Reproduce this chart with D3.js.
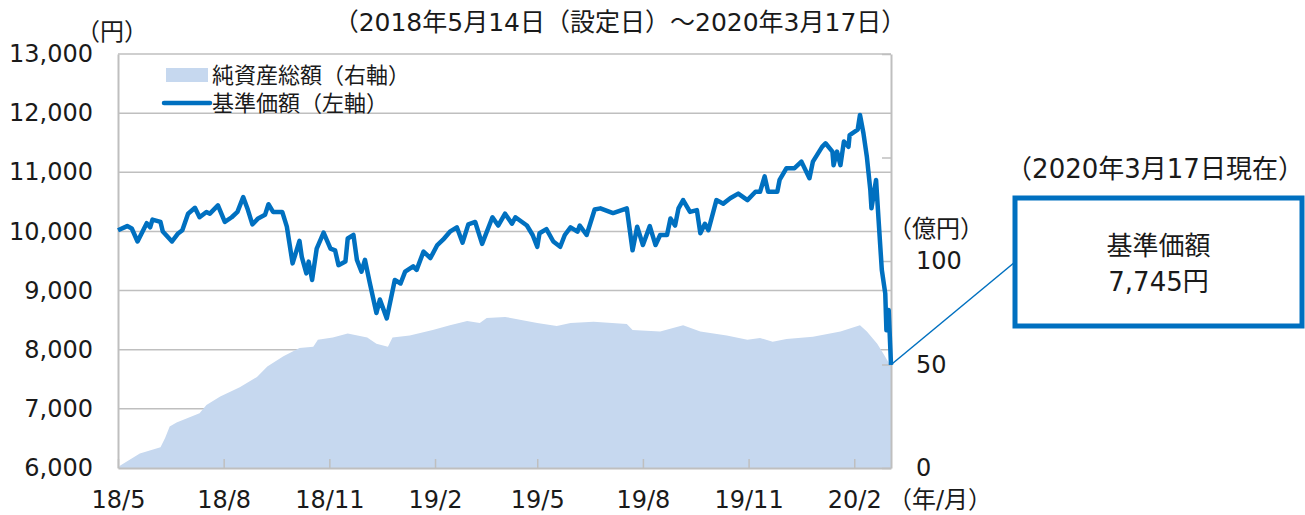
<!DOCTYPE html>
<html>
<head>
<meta charset="utf-8">
<script src="https://cdn.jsdelivr.net/npm/d3@7"></script>
<style>
  body { margin: 0; background: #fff; }
  svg text { font-family: "DejaVu Sans", "Noto Sans CJK JP", sans-serif; fill: #1a1a1a; }
</style>
</head>
<body>
<div id="vis"></div>
<script>
// days since launch (2018/5/14) and values
const navDays = [0, 8, 12, 17, 25, 28, 30, 37, 39, 47, 52, 56, 61, 67, 71, 77, 80, 87, 93, 99,
  104, 109, 113, 117, 122, 128, 131, 135, 143, 147, 152, 158, 160, 164, 166, 169, 173, 179, 185, 189,
  192, 198, 200, 205, 208, 212, 215, 219, 225, 228, 234, 241, 246, 250, 257, 260, 266, 272, 278, 283,
  289, 295, 300, 305, 311, 317, 326, 331, 337, 343, 346, 356, 361, 365, 367, 373, 379, 385, 389, 394,
  400, 402, 408, 415, 420, 431, 443, 448, 452, 457, 463, 468, 472, 478, 481, 485, 488, 492, 498, 504,
  507, 511, 514, 521, 527, 533, 540, 548, 555, 559, 563, 566, 574, 576, 582, 589, 595, 602, 605, 613,
  616, 622, 623, 626, 629, 632, 636, 637, 644, 646, 649, 652, 655, 656, 660, 662, 665, 668, 669, 671, 673];
const navValues = [10020, 10090, 10050, 9830, 10140, 10070, 10200, 10160, 10000, 9830, 9960, 10020, 10300, 10400, 10240, 10330, 10300, 10440, 10160, 10240,
  10330, 10580, 10370, 10120, 10220, 10280, 10460, 10330, 10330, 10080, 9460, 9840, 9570, 9290, 9490, 9180, 9710, 9980, 9710, 9680,
  9430, 9490, 9880, 9940, 9520, 9320, 9520, 9150, 8620, 8850, 8530, 9180, 9120, 9320, 9410, 9350, 9660, 9550, 9770, 9860,
  9995, 10070, 9810, 10120, 10160, 9790, 10240, 10100, 10300, 10130, 10240, 10100, 9940, 9740, 9970, 10040, 9830, 9740, 9940, 10070,
  9995, 10100, 9940, 10370, 10390, 10310, 10390, 9680, 10080, 9770, 10090, 9770, 9940, 9940, 10220, 10100, 10390, 10530, 10330, 10360,
  9970, 10130, 10020, 10530, 10470, 10560, 10640, 10530, 10670, 10670, 10930, 10670, 10670, 10870, 11070, 11070, 11180, 10900, 11180, 11430,
  11490, 11350, 11120, 11350, 11120, 11520, 11430, 11630, 11720, 11970, 11660, 11260, 10700, 10390, 10870, 10250, 9350, 8950, 8330, 8670, 7745];

// 純資産総額 (億円)
const aumDays = [0, 2, 19, 37, 41, 45, 51, 71, 77, 89, 106, 121, 130, 144, 158, 170, 174, 187, 200, 217,
  225, 235, 239, 254, 274, 289, 304, 315, 321, 337, 365, 382, 394, 414, 443, 448, 472, 492, 507, 530,
  548, 559, 570, 582, 605, 629, 646, 652, 661, 666, 673];
const aumValues = [0, 1.2, 7, 10, 14.5, 20, 22, 26.5, 30.4, 34.5, 39, 44, 49, 54, 58, 58.6, 62, 63, 65, 63,
  60, 58.6, 63, 64, 66.7, 69, 71, 70, 72.5, 73, 70, 68.6, 70, 70.7, 69.6, 66.7, 65.9, 69, 65.9, 64,
  62, 62.8, 61, 62.3, 63.4, 65.9, 69, 65.9, 60, 55.5, 49];

const leftTicks = [6000, 7000, 8000, 9000, 10000, 11000, 12000, 13000];
const rightTicks = [0, 50, 100, 150, 200];
const rightLabels = [0, 50, 100];
const xTickMonths = [0, 3, 6, 9, 12, 15, 18, 21];

const LAUNCH = new Date(2018, 4, 14);
const LAST_DAY = 673;

const FRAME_WIDTH = 1305;
const FRAME_HEIGHT = 515;
const MARGINS = {left: 118, right: 414, top: 54, bottom: 47};
const BLUE = "#0070c0";
const AREA = "#c6d8ef";
const GRID = "#bfbfbf";

const svg = d3.select("#vis").append("svg")
  .attr("width", FRAME_WIDTH)
  .attr("height", FRAME_HEIGHT);

const toDate = (d) => d3.timeDay.offset(LAUNCH, d);

const xScale = d3.scaleTime()
  .domain([LAUNCH, toDate(LAST_DAY)])
  .range([MARGINS.left, FRAME_WIDTH - MARGINS.right]);

const yLeft = d3.scaleLinear()
  .domain([6000, 13000])
  .range([FRAME_HEIGHT - MARGINS.bottom, MARGINS.top]);

const yRight = d3.scaleLinear()
  .domain([0, 200])
  .range([FRAME_HEIGHT - MARGINS.bottom, MARGINS.top]);

const X0 = xScale.range()[0], X1 = xScale.range()[1];
const Y0 = yLeft.range()[0];

// horizontal gridlines
svg.append("g")
  .selectAll("line")
  .data(leftTicks.slice(1))
  .enter().append("line")
    .attr("x1", X0)
    .attr("x2", X1)
    .attr("y1", (d) => yLeft(d))
    .attr("y2", (d) => yLeft(d))
    .attr("stroke", GRID)
    .attr("stroke-width", 1.5);

// net assets area
const aum = aumDays.map((d, i) => ({date: toDate(d), v: aumValues[i]}));
svg.append("path")
  .datum(aum)
  .attr("fill", AREA)
  .attr("d", d3.area()
    .x((d) => xScale(d.date))
    .y0(yRight(0))
    .y1((d) => yRight(d.v)));

// axes
const xAxis = d3.axisBottom(xScale)
  .tickValues(xTickMonths.map((m) => d3.timeMonth.offset(LAUNCH, m)))
  .tickFormat(d3.timeFormat("%y/%-m"))
  .tickSizeInner(-9)
  .tickSizeOuter(0)
  .tickPadding(23);

const gx = svg.append("g")
  .attr("transform", `translate(0, ${Y0})`)
  .call(xAxis);

const gl = svg.append("g")
  .attr("transform", `translate(${X0}, 0)`)
  .call(d3.axisLeft(yLeft).tickValues(leftTicks).tickFormat(d3.format(",")).tickSize(0).tickPadding(25));

const gr = svg.append("g")
  .attr("transform", `translate(${X1}, 0)`)
  .call(d3.axisRight(yRight).tickValues(rightTicks)
    .tickFormat((d) => rightLabels.includes(d) ? d : "")
    .tickSizeInner(-9).tickSizeOuter(0).tickPadding(25));

[gx, gl, gr].forEach((g) => {
  g.select(".domain").attr("stroke", GRID).attr("stroke-width", 2);
  g.selectAll(".tick line").attr("stroke", GRID).attr("stroke-width", 1.5);
  g.selectAll(".tick text")
    .attr("font-size", "24px")
    .attr("font-family", "DejaVu Sans")
    .attr("fill", "#1a1a1a");
});

// NAV line
const nav = navDays.map((d, i) => ({date: toDate(d), v: navValues[i]}));
svg.append("path")
  .datum(nav)
  .attr("fill", "none")
  .attr("stroke", BLUE)
  .attr("stroke-width", 4.5)
  .attr("stroke-linejoin", "round")
  .attr("d", d3.line()
    .x((d) => xScale(d.date))
    .y((d) => yLeft(d.v)));

// titles and units
svg.append("text")
  .attr("x", 620).attr("y", 31)
  .attr("text-anchor", "middle")
  .attr("font-size", "25px")
  .text("（2018年5月14日（設定日）～2020年3月17日）");

svg.append("text")
  .attr("x", 76).attr("y", 40)
  .attr("font-size", "24px")
  .text("（円）");

svg.append("text")
  .attr("x", 888).attr("y", 237)
  .attr("font-size", "24px")
  .text("（億円）");

svg.append("text")
  .attr("x", 888).attr("y", 508)
  .attr("font-size", "24px")
  .text("（年/月）");

// legend
svg.append("rect")
  .attr("x", 166).attr("y", 68)
  .attr("width", 42).attr("height", 14)
  .attr("fill", AREA);

svg.append("text")
  .attr("x", 212).attr("y", 83)
  .attr("font-size", "22px")
  .text("純資産総額（右軸）");

svg.append("line")
  .attr("x1", 164).attr("x2", 210)
  .attr("y1", 103).attr("y2", 103)
  .attr("stroke", BLUE)
  .attr("stroke-width", 4.5)
  .attr("stroke-linecap", "round");

svg.append("text")
  .attr("x", 212).attr("y", 111)
  .attr("font-size", "22px")
  .text("基準価額（左軸）");

// callout for latest NAV
const last = nav[nav.length - 1];
const BOX = {x: 1015, y: 198, w: 287, h: 128};

svg.append("line")
  .attr("x1", xScale(last.date))
  .attr("y1", yLeft(last.v))
  .attr("x2", BOX.x)
  .attr("y2", 262)
  .attr("stroke", BLUE)
  .attr("stroke-width", 1.5);

svg.append("rect")
  .attr("x", BOX.x).attr("y", BOX.y)
  .attr("width", BOX.w).attr("height", BOX.h)
  .attr("fill", "#fff")
  .attr("stroke", BLUE)
  .attr("stroke-width", 5);

svg.append("text")
  .attr("x", BOX.x + BOX.w / 2).attr("y", 255)
  .attr("text-anchor", "middle")
  .attr("font-size", "26px")
  .text("基準価額");

svg.append("text")
  .attr("x", BOX.x + BOX.w / 2).attr("y", 291)
  .attr("text-anchor", "middle")
  .attr("font-size", "26px")
  .text(d3.format(",")(last.v) + "円");

svg.append("text")
  .attr("x", 1155).attr("y", 178)
  .attr("text-anchor", "middle")
  .attr("font-size", "26px")
  .text("（2020年3月17日現在）");
</script>
</body>
</html>
